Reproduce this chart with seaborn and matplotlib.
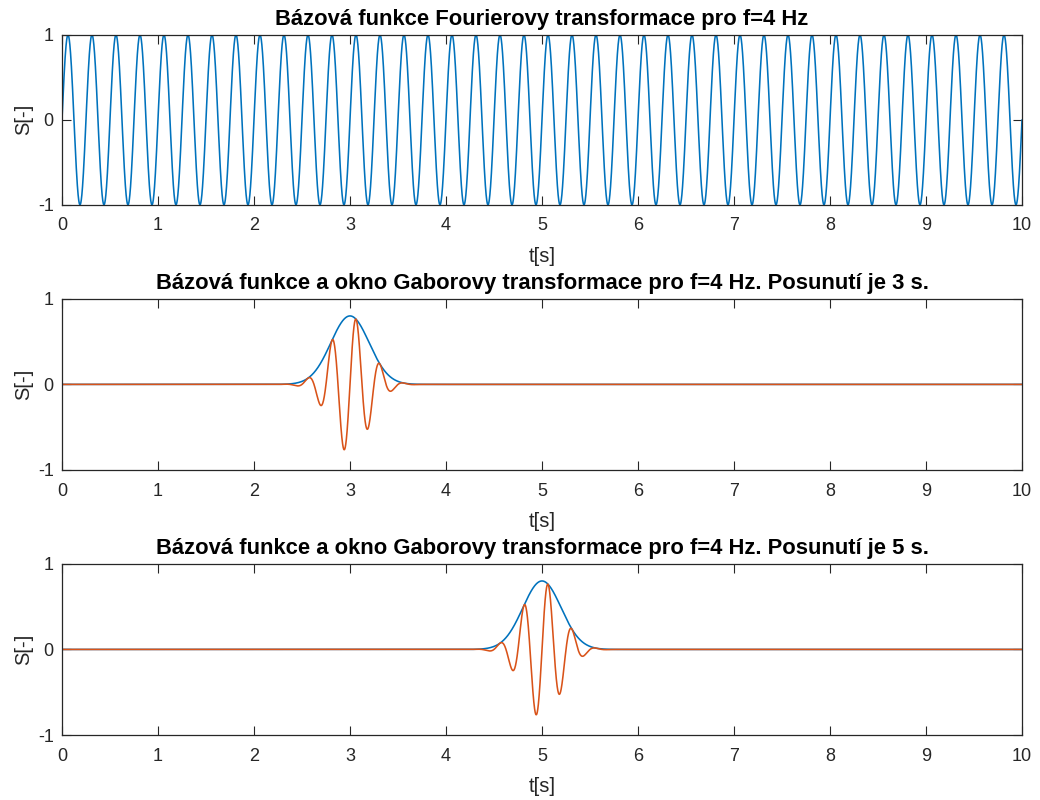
import numpy as np
import pandas as pd
import matplotlib
matplotlib.use("Agg")
import matplotlib.pyplot as plt
import seaborn as sns

# ---- chart parameters ----
FREQ_HZ = 4            # basis-function frequency
T_START = 0.0
T_END = 10.0
N_SAMPLES = 10001
WINDOW_SHIFTS = [3, 5]  # Gabor window shift [s]
WINDOW_PEAK = 0.8       # peak of the Gaussian window
WINDOW_SIGMA = 0.2      # width of the Gaussian window [s]

TITLES = [
    "Bázová funkce Fourierovy transformace pro f=4 Hz",
    "Bázová funkce a okno Gaborovy transformace pro f=4 Hz. Posunutí je 3 s.",
    "Bázová funkce a okno Gaborovy transformace pro f=4 Hz. Posunutí je 5 s.",
]
X_TICKS = [0, 1, 2, 3, 4, 5, 6, 7, 8, 9, 10]
Y_TICKS = [-1, 0, 1]
X_LABEL = "t[s]"
Y_LABEL = "S[-]"

BLUE = "#0072BD"
ORANGE = "#D95319"
AXC = "#262626"

sns.set_style("white")
plt.rcParams["font.family"] = ["Liberation Sans", "DejaVu Sans"]

t = np.linspace(T_START, T_END, N_SAMPLES)
basis = np.sin(2 * np.pi * FREQ_HZ * t)

fig = plt.figure(figsize=(10.4, 8.0), dpi=100)
positions = [
    [0.0596, 0.744, 0.9231, 0.2125],
    [0.0596, 0.4125, 0.9231, 0.2140],
    [0.0596, 0.0812, 0.9231, 0.2140],
]
axes = [fig.add_axes(p) for p in positions]

# top: Fourier basis
df0 = pd.DataFrame({"t": t, "S": basis})
sns.lineplot(data=df0, x="t", y="S", ax=axes[0], color=BLUE, linewidth=1.15,
             estimator=None, sort=False)

# Gabor windows
for ax, shift in zip(axes[1:], WINDOW_SHIFTS):
    window = WINDOW_PEAK * np.exp(-(t - shift) ** 2 / (2 * WINDOW_SIGMA ** 2))
    dfw = pd.DataFrame({"t": t, "S": window})
    dfg = pd.DataFrame({"t": t, "S": window * basis})
    sns.lineplot(data=dfw, x="t", y="S", ax=ax, color=BLUE, linewidth=1.15,
                 estimator=None, sort=False)
    sns.lineplot(data=dfg, x="t", y="S", ax=ax, color=ORANGE, linewidth=1.15,
                 estimator=None, sort=False)

for ax, title in zip(axes, TITLES):
    ax.set_xlim(T_START, T_END)
    ax.set_ylim(-1, 1)
    ax.set_xticks(X_TICKS)
    ax.set_yticks(Y_TICKS)
    ax.set_xticklabels([str(v) for v in X_TICKS])
    ax.set_yticklabels([str(v) for v in Y_TICKS])
    ax.tick_params(direction="in", length=6.5, width=0.8, color=AXC,
                   labelcolor=AXC, labelsize=13, top=True, right=True,
                   bottom=True, left=True)
    ax.tick_params(axis="x", pad=9)
    ax.tick_params(axis="y", pad=6)
    for s in ax.spines.values():
        s.set_visible(True)
        s.set_color(AXC)
        s.set_linewidth(0.9)
    ax.set_xlabel(X_LABEL, fontsize=14.5, color=AXC, labelpad=9)
    ax.set_ylabel(Y_LABEL, fontsize=14.5, color=AXC, labelpad=3)
    ax.set_title(title, fontsize=15.8, fontweight="bold", color="black", pad=7)
    ax.grid(False)

fig.savefig("out.png", dpi=100, facecolor="white")
